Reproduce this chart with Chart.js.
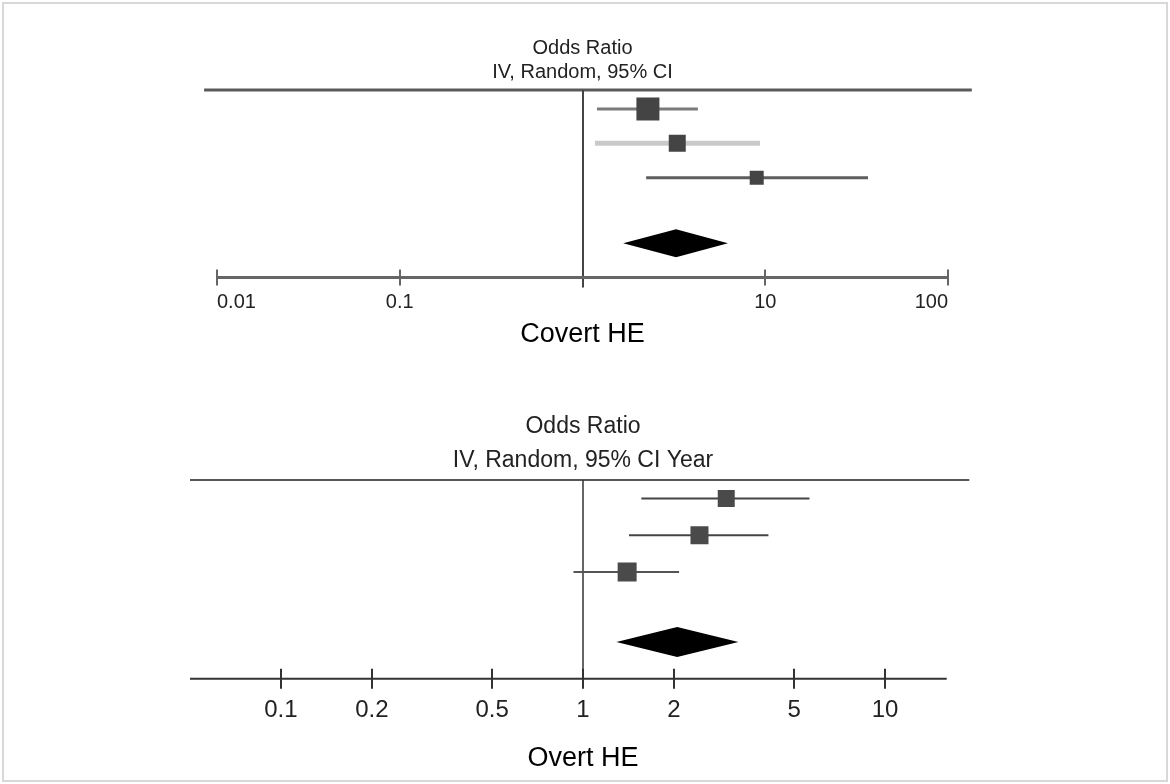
<!DOCTYPE html>
<html>
<head>
<meta charset="utf-8">
<script src="https://cdn.jsdelivr.net/npm/chart.js@4.4.1/dist/chart.umd.min.js"></script>
<style>
  html, body { margin: 0; padding: 0; background: #fff; }
  body { width: 1170px; height: 784px; position: relative; overflow: hidden; }
  #frame { position: absolute; left: 2px; top: 2px; width: 1162px; height: 776px; border: 2px solid #d8d8d8; }
  .plot { position: absolute; left: 0; }
  #covert-wrap { top: 0; }
  #overt-wrap { top: 380px; }
</style>
</head>
<body>
<div id="frame"></div>
<div class="plot" id="covert-wrap"><canvas id="covertChart" width="1170" height="370"></canvas></div>
<div class="plot" id="overt-wrap"><canvas id="overtChart" width="1170" height="404"></canvas></div>
<script>
// Covert HE - odds ratios with 95% CI, three studies + pooled
const covertRows = [1, 2, 3];
const covertOR = [2.28, 3.30, 8.98];
const covertLow = [1.20, 1.17, 2.23];
const covertHigh = [4.28, 9.36, 36.5];
const covertPooled = [1.67, 3.25, 6.25];   // low, estimate, high
const covertTicks = [0.01, 0.1, 10, 100];

// Overt HE
const overtRows = [1, 2, 3];
const overtOR = [2.98, 2.43, 1.40];
const overtLow = [1.56, 1.42, 0.93];
const overtHigh = [5.62, 4.11, 2.08];
const overtPooled = [1.29, 2.05, 3.27];
const overtTicks = [0.1, 0.2, 0.5, 1, 2, 5, 10];

const pooledRow = 4.9;

const narrow = "'Liberation Sans Narrow', 'Arial Narrow', 'Liberation Sans', Arial, sans-serif";
const regular = "'Liberation Sans', Arial, sans-serif";

// draws the header rule, the line of no effect, the axis with its tick marks and the pooled diamond
function forestPlugin(cfg) {
  return {
    id: 'forest',
    beforeDatasetsDraw(chart) {
      const { ctx, chartArea } = chart;
      const x = chart.scales.x;
      ctx.save();
      ctx.lineCap = 'butt';

      ctx.strokeStyle = cfg.ruleColor;
      ctx.lineWidth = cfg.ruleWidth;
      ctx.beginPath();
      ctx.moveTo(x.getPixelForValue(cfg.ruleFrom), chartArea.top);
      ctx.lineTo(x.getPixelForValue(cfg.ruleTo), chartArea.top);
      ctx.stroke();

      const x1 = Math.round(x.getPixelForValue(1));
      ctx.strokeStyle = cfg.nullColor;
      ctx.lineWidth = cfg.nullWidth;
      ctx.beginPath();
      ctx.moveTo(x1, chartArea.top);
      ctx.lineTo(x1, chartArea.bottom + cfg.nullOverhang);
      ctx.stroke();

      ctx.strokeStyle = cfg.axisColor;
      ctx.lineWidth = cfg.axisWidth;
      ctx.beginPath();
      ctx.moveTo(x.getPixelForValue(cfg.axisFrom), chartArea.bottom);
      ctx.lineTo(x.getPixelForValue(cfg.axisTo), chartArea.bottom);
      ctx.stroke();

      ctx.lineWidth = cfg.tickWidth;
      ctx.beginPath();
      cfg.ticks.forEach(v => {
        const px = Math.round(x.getPixelForValue(v));
        ctx.moveTo(px, chartArea.bottom - cfg.tickLen);
        ctx.lineTo(px, chartArea.bottom + cfg.tickLen);
      });
      ctx.stroke();
      ctx.restore();
    },
    afterDatasetsDraw(chart) {
      const { ctx } = chart;
      const x = chart.scales.x;
      const y = chart.scales.y.getPixelForValue(pooledRow);
      const [lo, est, hi] = cfg.pooled;
      ctx.save();
      ctx.fillStyle = '#000';
      ctx.beginPath();
      ctx.moveTo(x.getPixelForValue(lo), y);
      ctx.lineTo(x.getPixelForValue(est), y - cfg.diamondHalf);
      ctx.lineTo(x.getPixelForValue(hi), y);
      ctx.lineTo(x.getPixelForValue(est), y + cfg.diamondHalf);
      ctx.closePath();
      ctx.fill();
      ctx.restore();
    }
  };
}

function buildForest(canvasId, cfg) {
  const datasets = [{
    label: 'Study odds ratio',
    data: cfg.rows.map((r, i) => ({ x: cfg.or[i], y: r })),
    pointStyle: 'rect',
    pointRadius: cfg.boxSide.map(s => s / Math.SQRT2),
    backgroundColor: cfg.boxColor,
    borderWidth: 0,
    order: 0
  }];
  cfg.rows.forEach((r, i) => {
    datasets.push({
      label: '95% CI',
      data: [{ x: cfg.low[i], y: r }, { x: cfg.high[i], y: r }],
      showLine: true,
      pointRadius: 0,
      borderColor: cfg.ciColor[i],
      borderWidth: cfg.ciWidth[i],
      order: 1
    });
  });

  return new Chart(document.getElementById(canvasId), {
    type: 'scatter',
    data: { datasets },
    options: {
      responsive: false,
      animation: false,
      devicePixelRatio: 1,
      events: [],
      layout: { padding: cfg.padding },
      plugins: {
        legend: { display: false },
        tooltip: { enabled: false },
        title: {
          display: true,
          text: ['Odds Ratio', cfg.subtitle],
          color: '#222',
          font: { family: narrow, size: cfg.titleSize, weight: 'normal', lineHeight: cfg.titleLineHeight },
          padding: { top: 0, bottom: cfg.titleGap }
        }
      },
      scales: {
        x: {
          type: 'logarithmic',
          min: cfg.min,
          max: cfg.max,
          grid: { display: false, drawTicks: false },
          border: { display: false },
          afterBuildTicks: scale => { scale.ticks = cfg.ticks.map(v => ({ value: v })); },
          ticks: {
            autoSkip: false,
            maxRotation: 0,
            align: cfg.tickAlign,
            padding: cfg.tickPad,
            color: '#222',
            font: { family: narrow, size: cfg.tickSize },
            callback: v => String(v)
          },
          title: {
            display: true,
            text: cfg.axisTitle,
            color: '#000',
            font: { family: regular, size: 27 },
            padding: { top: cfg.axisTitleGap, bottom: 0 }
          }
        },
        y: { type: 'linear', reverse: true, min: cfg.yMin, max: 5.9, display: false }
      }
    },
    plugins: [forestPlugin(cfg)]
  });
}

buildForest('covertChart', {
  rows: covertRows, or: covertOR, low: covertLow, high: covertHigh, pooled: covertPooled,
  ticks: covertTicks, min: 0.01, max: 100, yMin: 0.45,
  subtitle: 'IV, Random, 95% CI', axisTitle: 'Covert HE',
  padding: { left: 217, right: 222, top: 36, bottom: 19 },
  titleSize: 20, titleLineHeight: 1.2, titleGap: 6,
  tickSize: 20, tickPad: 13, tickAlign: 'inner', axisTitleGap: -9,
  boxSide: [23, 17, 14], boxColor: '#444',
  ciColor: ['#7a7a7a', '#c9c9c9', '#5e5e5e'], ciWidth: [3, 5, 3],
  ruleFrom: 0.0085, ruleTo: 135, ruleColor: '#5a5a5a', ruleWidth: 3,
  nullColor: '#444', nullWidth: 2, nullOverhang: 10,
  axisFrom: 0.01, axisTo: 100, axisColor: '#666', axisWidth: 3,
  tickWidth: 2, tickLen: 8, diamondHalf: 14
});

buildForest('overtChart', {
  rows: overtRows, or: overtOR, low: overtLow, high: overtHigh, pooled: overtPooled,
  ticks: overtTicks, min: 0.05, max: 20, yMin: 0.5,
  subtitle: 'IV, Random, 95% CI Year', axisTitle: 'Overt HE',
  padding: { left: 190, right: 194, top: 30, bottom: 9 },
  titleSize: 23, titleLineHeight: 1.48, titleGap: 2,
  tickSize: 24, tickPad: 17, tickAlign: 'center', axisTitleGap: 1,
  boxSide: [17, 18, 19], boxColor: '#4a4a4a',
  ciColor: ['#444', '#444', '#555'], ciWidth: [2, 2, 2],
  ruleFrom: 0.05, ruleTo: 19, ruleColor: '#555', ruleWidth: 2,
  nullColor: '#333', nullWidth: 1.5, nullOverhang: 2,
  axisFrom: 0.05, axisTo: 16, axisColor: '#333', axisWidth: 2,
  tickWidth: 2, tickLen: 10, diamondHalf: 15
});
</script>
</body>
</html>
